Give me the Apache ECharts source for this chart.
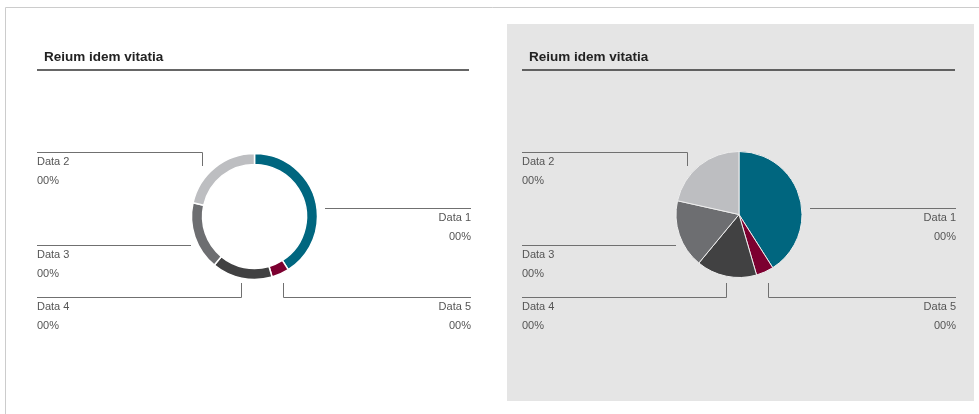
<!DOCTYPE html>
<html>
<head>
<meta charset="utf-8">
<script src="https://cdn.jsdelivr.net/npm/echarts@6/dist/echarts.min.js"></script>
<style>
  html, body { margin: 0; padding: 0; background: #ffffff; }
  #chart { width: 979px; height: 414px; }
</style>
</head>
<body>
<div id="chart"></div>
<script>
// clockwise from 12 o'clock
const categories = ['Data 1', 'Data 5', 'Data 4', 'Data 3', 'Data 2']
const shares = [41, 4.5, 15.5, 17.5, 21.5]
const shareLabels = ['00%', '00%', '00%', '00%', '00%']
const sliceColors = ['#00667f', '#7c0030', '#414142', '#6d6e71', '#bdbec1']
const titles = ['Reium idem vitatia', 'Reium idem vitatia']

const FONT = "'Liberation Sans', Arial, sans-serif"
const LINE_COLOR = '#707070'

// panel geometry
const panelLeft = [37, 522]
const panelWidth = 434

// guide line per category: rule y, where it stops / turns, end y of the elbow
const guides = {
  'Data 1': { side: 'right', y: 208.5, from: 288 },
  'Data 5': { side: 'right', y: 297.5, elbow: 246.5, endY: 283 },
  'Data 4': { side: 'left', y: 297.5, elbow: 204.5, endY: 283 },
  'Data 3': { side: 'left', y: 245.5, to: 154 },
  'Data 2': { side: 'left', y: 152.5, elbow: 165.5, endY: 166 },
}

function labelLayout(params) {
  const name = categories[params.dataIndex]
  const g = guides[name]
  const x0 = panelLeft[params.seriesIndex]
  const x1 = x0 + panelWidth
  let pts
  if (g.side === 'left') {
    if (g.elbow != null) {
      pts = [[x0, g.y], [x0 + g.elbow, g.y], [x0 + g.elbow, g.endY]]
    } else {
      pts = [[x0, g.y], [x0 + g.to, g.y]]
    }
  } else {
    if (g.elbow != null) {
      pts = [[x1, g.y], [x0 + g.elbow, g.y], [x0 + g.elbow, g.endY]]
    } else {
      pts = [[x0 + g.from, g.y], [x1, g.y]]
    }
  }
  return {
    x: g.side === 'left' ? x0 : x1,
    y: g.y + 0.5,
    align: g.side,
    verticalAlign: 'top',
    labelLinePoints: pts,
  }
}

function makeData() {
  return categories.map((name, i) => ({
    name,
    value: shares[i],
    itemStyle: { color: sliceColors[i] },
  }))
}

const labelOpt = {
  show: true,
  position: 'outer',
  formatter: (p) => `{n|${p.name}}\n{v|${shareLabels[p.dataIndex]}}`,
  rich: {
    n: { fontFamily: FONT, fontSize: 11, lineHeight: 18.5, color: '#555555' },
    v: { fontFamily: FONT, fontSize: 11, lineHeight: 18.5, color: '#555555' },
  },
}

const chart = echarts.init(document.getElementById('chart'), null, { renderer: 'canvas' })

chart.setOption({
  animation: false,
  backgroundColor: '#ffffff',
  title: titles.map((t, i) => ({
    text: t,
    left: i === 0 ? 44 : 529,
    top: 50,
    padding: 0,
    textStyle: { fontFamily: FONT, fontSize: 13.5, fontWeight: 'bold', color: '#222222' },
  })),
  graphic: [
    // outer frame
    { type: 'line', shape: { x1: 5.5, y1: 7.5, x2: 979, y2: 7.5 }, style: { stroke: '#cccccc', lineWidth: 1 } },
    { type: 'line', shape: { x1: 5.5, y1: 7.5, x2: 5.5, y2: 414 }, style: { stroke: '#cccccc', lineWidth: 1 } },
    // grey panel
    { type: 'rect', shape: { x: 507, y: 24, width: 467, height: 377 }, style: { fill: '#e5e5e5' } },
    // title rules
    { type: 'line', shape: { x1: 37, y1: 70, x2: 469, y2: 70 }, style: { stroke: '#333333', lineWidth: 1.5 } },
    { type: 'line', shape: { x1: 522, y1: 70, x2: 955, y2: 70 }, style: { stroke: '#333333', lineWidth: 1.5 } },
  ],
  series: [
    {
      type: 'pie',
      center: [254.5, 216.5],
      radius: [52, 63],
      startAngle: 90,
      clockwise: true,
      silent: true,
      data: makeData(),
      itemStyle: { borderColor: '#ffffff', borderWidth: 1.5 },
      label: labelOpt,
      labelLine: { show: true, lineStyle: { color: LINE_COLOR, width: 1 } },
      labelLayout,
    },
    {
      type: 'pie',
      center: [739, 214.5],
      radius: [0, 63],
      startAngle: 90,
      clockwise: true,
      silent: true,
      data: makeData(),
      itemStyle: { borderColor: '#eeeeee', borderWidth: 1 },
      label: labelOpt,
      labelLine: { show: true, lineStyle: { color: LINE_COLOR, width: 1 } },
      labelLayout,
    },
  ],
})
</script>
</body>
</html>
